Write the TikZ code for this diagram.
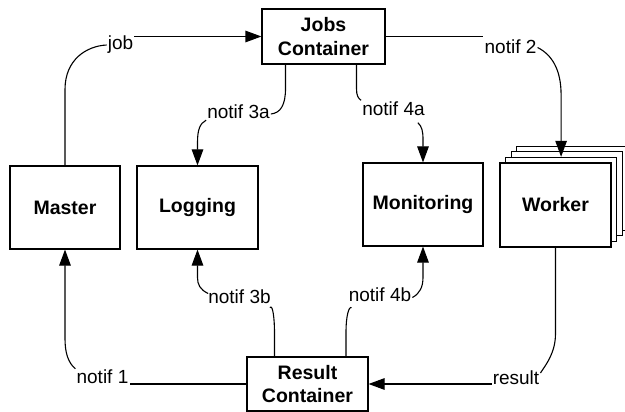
\documentclass[tikz,border=0pt]{standalone}
\usepackage{fontspec}
\setmainfont{Liberation Sans}
\usetikzlibrary{arrows.meta,calc}
\begin{document}
\begin{tikzpicture}[x=1pt,y=-1pt,
 box/.style={draw=black,line width=1.1pt,fill=white,inner sep=0pt,align=center,font=\fontsize{19.5}{23.3}\selectfont\bfseries},
 lbl/.style={inner sep=1pt,font=\fontsize{19}{22}\selectfont},
 conn/.style={line width=1.1pt},
 arr/.style={conn,-{Triangle[length=16pt,width=11.5pt]}}]
\useasboundingbox (0,0) rectangle (625,412);

% boxes
\node[box,minimum width=123pt,minimum height=55pt] (jobs) at (323.5,36.5) {Jobs\\Container};
\node[box,minimum width=110pt,minimum height=83pt] (master) at (65,207.5) {Master};
\node[box,minimum width=121pt,minimum height=83pt] (logging) at (197.5,207.5) {Logging};
\node[box,minimum width=120pt,minimum height=83pt] (monitoring) at (423,204.5) {Monitoring};
\node[box,minimum width=111pt,minimum height=84pt] (wb3) at (572.3,188.2) {};
\node[box,minimum width=111pt,minimum height=84pt] (wb2) at (566.7,193.8) {};
\node[box,minimum width=111pt,minimum height=84pt] (wb1) at (561.1,199.4) {};
\node[box,minimum width=111pt,minimum height=84pt] (worker) at (555.5,205) {Worker};
\node[box,minimum width=121pt,minimum height=54pt] (result) at (307.5,384) {Result\\Container};

% labels
\node[lbl] (ljob) at (120.5,45) {job};
\node[lbl] (l3a) at (238.5,112) {notif 3a};
\node[lbl] (l4a) at (393.5,108.5) {notif 4a};
\node[lbl] (l2) at (510.5,46.5) {notif 2};
\node[lbl] (l1) at (102.5,377) {notif 1};
\node[lbl] (l3b) at (239.5,296.5) {notif 3b};
\node[lbl] (l4b) at (380,294.5) {notif 4b};
\node[lbl] (lres) at (516,378) {result};

% job
\draw[conn] (master.north) -- ($(master.north)+(0,-76)$)
  .. controls ($(master.north)+(0,-106)$) and ($(ljob.west)+(-20,1)$) .. (ljob.west);
\draw[arr] (ljob.east |- jobs.west) -- (jobs.west);

% notif 3a
\draw[conn] ($(jobs.south)+(-38,0)$) -- ($(jobs.south)+(-38,24)$)
  .. controls ($(jobs.south)+(-38,40)$) and ($(l3a.east)+(10,1)$) .. ($(l3a.east)+(0,2)$);
\draw[arr] (l3a.south west) .. controls ($(logging.north)+(2.5,-42)$) and ($(logging.north)+(0,-36)$)
  .. ($(logging.north)+(0,-23)$) -- (logging.north);

% notif 4a
\draw[conn] ($(jobs.south)+(33,0)$) -- ($(jobs.south)+(33,24)$)
  .. controls ($(jobs.south)+(33,31)$) and ($(l4a.north west)+(-3,-2)$) .. (l4a.north west);
\draw[arr] ($(l4a.south east)+(-8,6)$) .. controls ($(monitoring.north)+(-1,-36)$) and ($(monitoring.north)+(0,-31)$)
  .. ($(monitoring.north)+(0,-23)$) -- (monitoring.north);

% notif 2
\draw[conn] (jobs.east) -- (l2.north west |- jobs.east);
\draw[arr] ($(l2.east)+(0,1)$) .. controls ($(wb1.north)+(-9,-102)$) and ($(wb1.north)+(0,-87)$)
  .. ($(wb1.north)+(0,-62)$) -- (wb1.north);

% notif 1
\draw[conn] (result.west) -- (l1.south east |- result.west);
\draw[arr] (l1.north west) .. controls ($(master.south)+(3,113)$) and ($(master.south)+(0,103)$)
  .. ($(master.south)+(0,89)$) -- (master.south);

% notif 3b
\draw[conn] ($(result.north)+(-33,0)$) -- ($(result.north)+(-33,-24)$)
  .. controls ($(result.north)+(-33,-37)$) and ($(l3b.south east)+(1,-1)$) .. ($(l3b.south east)+(-2,3)$);
\draw[arr] ($(l3b.west)+(1,-3)$) .. controls ($(logging.south)+(2.5,40)$) and ($(logging.south)+(0,35)$)
  .. ($(logging.south)+(0,28)$) -- (logging.south);

% notif 4b
\draw[conn] ($(result.north)+(38.5,0)$) -- ($(result.north)+(38.5,-25)$)
  .. controls ($(result.north)+(38.5,-39)$) and ($(l4b.south west)+(1,3)$) .. ($(l4b.south west)+(4,5)$);
\draw[arr] ($(l4b.east)+(0,3)$) .. controls ($(monitoring.south)+(-3,47)$) and ($(monitoring.south)+(0,40)$)
  .. ($(monitoring.south)+(0,31)$) -- (monitoring.south);

% result
\draw[conn] (worker.south) -- ($(worker.south)+(0,86)$)
  .. controls ($(worker.south)+(0,105)$) and ($(lres.east)+(6,-14)$) .. ($(lres.east)+(0,-5)$);
\draw[arr] (lres.south west |- result.east) -- (result.east);
\end{tikzpicture}
\end{document}
